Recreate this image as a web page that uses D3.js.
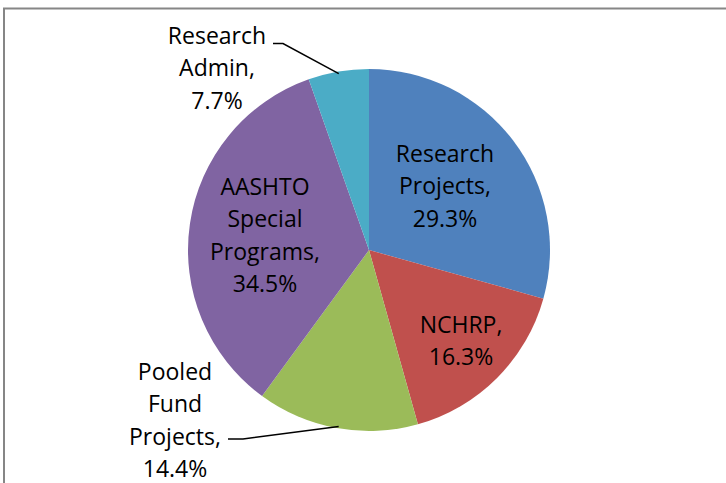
<!DOCTYPE html>
<html>
<head>
<meta charset="utf-8">
<script src="https://cdn.jsdelivr.net/npm/d3@7"></script>
<style>
  html, body { margin: 0; padding: 0; background: #fff; }
  svg { display: block; }
  text { font-family: "Open Sans", sans-serif; font-size: 23px; fill: #000; }
</style>
</head>
<body>
<svg id="chart" width="726" height="483"></svg>
<script>
// Data (slice shares as drawn; label texts as printed)
const categories = ["Research Projects", "NCHRP", "Pooled Fund Projects", "AASHTO Special Programs", "Research Admin"];
const sliceValues = [29.3, 16.3, 14.4, 34.5, 5.4];
const labelPercents = ["29.3%", "16.3%", "14.4%", "34.5%", "7.7%"];
const labelLines = [
  ["Research", "Projects,"],
  ["NCHRP,"],
  ["Pooled", "Fund", "Projects,"],
  ["AASHTO", "Special", "Programs,"],
  ["Research", "Admin,"]
];
const colors = ["#4F81BD", "#C0504D", "#9BBB59", "#8064A2", "#4BACC6"];

const svg = d3.select("#chart");
const cx = 369, cy = 250, R = 181;

// chart border (top and left visible)
svg.append("rect")
  .attr("x", 4).attr("y", 8.5)
  .attr("width", 760).attr("height", 520)
  .attr("fill", "none").attr("stroke", "#868686").attr("stroke-width", 2);

const pie = d3.pie().sort(null).value(d => d)(sliceValues);
const arc = d3.arc().innerRadius(0).outerRadius(R);

const g = svg.append("g").attr("transform", `translate(${cx},${cy})`);
g.selectAll("path").data(pie).enter().append("path")
  .attr("d", arc)
  .attr("fill", (d, i) => colors[i]);

// label layout: [center x, first baseline] in page coords
const labelPos = [
  [445, 162],
  [461, 333],
  [175, 380],
  [265, 195],
  [217, 44]
];
const lineH = 32.4;

labelLines.forEach((lines, i) => {
  const all = lines.concat([labelPercents[i]]);
  const t = svg.append("text").attr("text-anchor", "middle");
  all.forEach((s, k) => {
    t.append("tspan")
      .attr("x", labelPos[i][0])
      .attr("y", labelPos[i][1] + k * lineH)
      .text(s);
  });
});

// leader lines for outside labels
const line = d3.line();
const leaders = [
  { idx: 4, frac: 0.5, pts: [[273, 43.5], [283, 43.5]] },
  { idx: 2, frac: 0.49, pts: [[228, 439], [243, 439]] }
];
leaders.forEach(l => {
  const d = pie[l.idx];
  const ang = d.startAngle + (d.endAngle - d.startAngle) * l.frac;
  const r = R - 2;
  const ex = cx + r * Math.sin(ang), ey = cy - r * Math.cos(ang);
  svg.append("path")
    .attr("d", line(l.pts.concat([[ex, ey]])))
    .attr("fill", "none").attr("stroke", "#000").attr("stroke-width", 1.5);
});
</script>
</body>
</html>
